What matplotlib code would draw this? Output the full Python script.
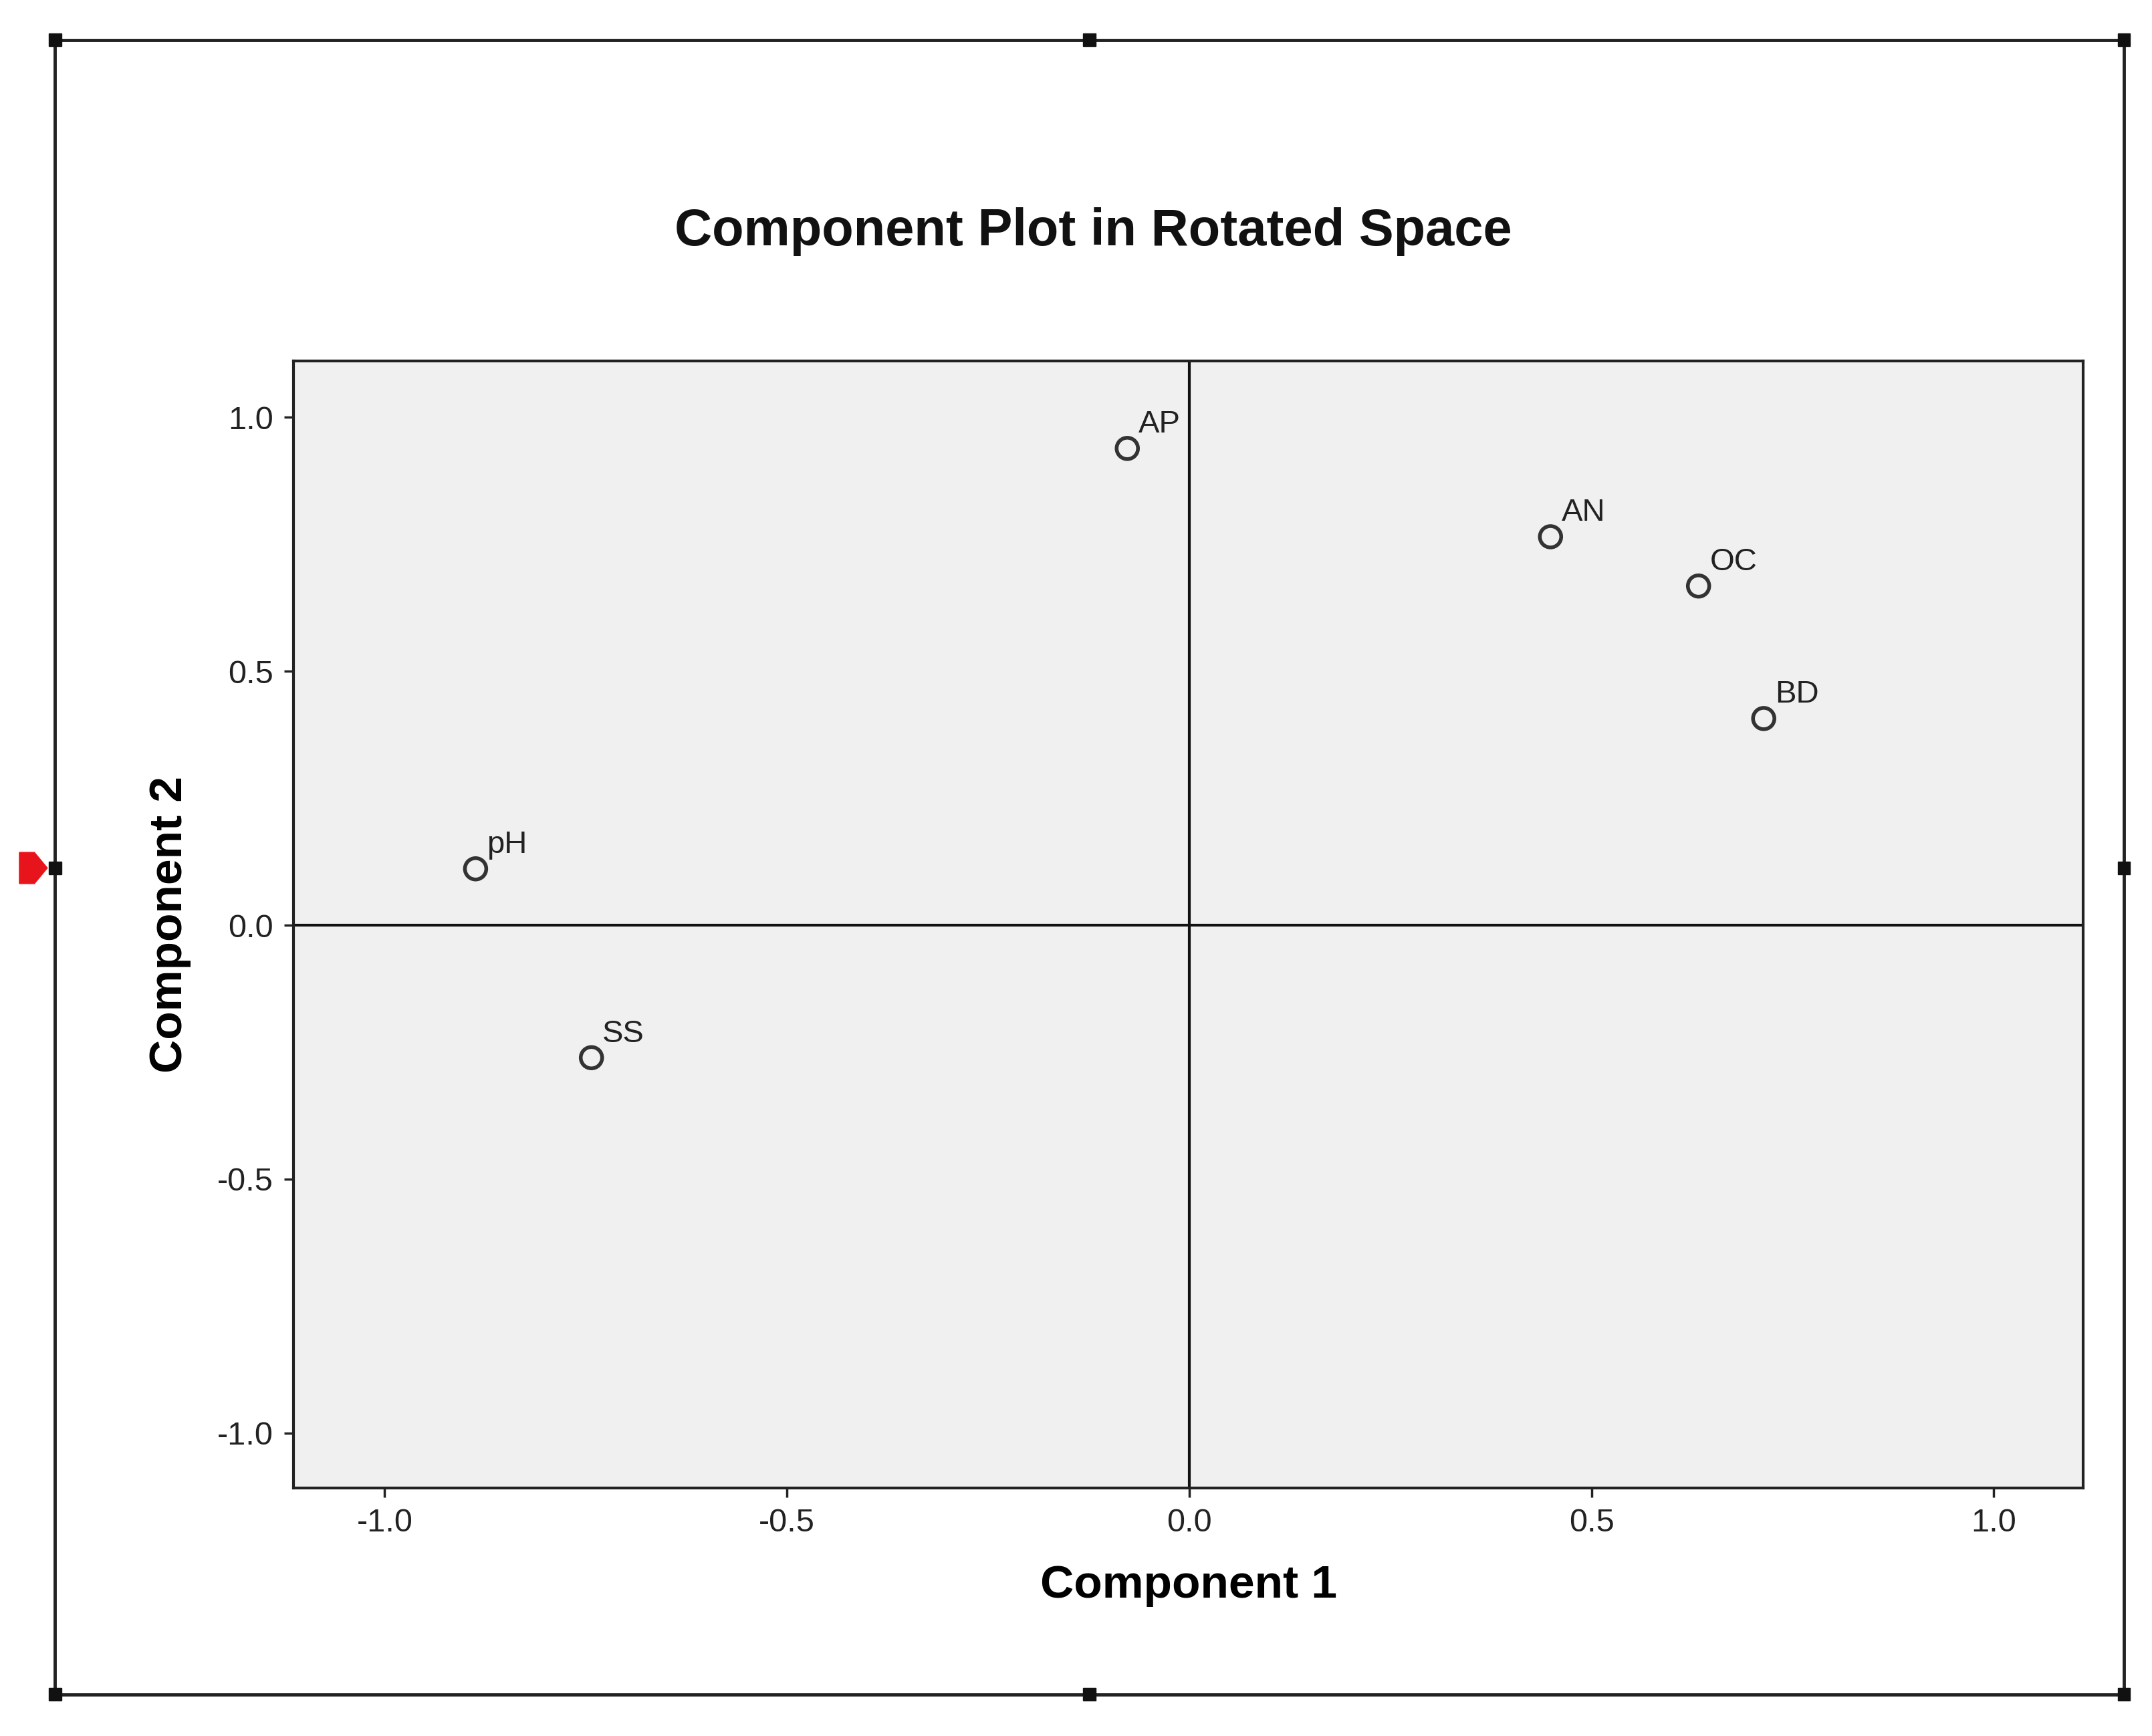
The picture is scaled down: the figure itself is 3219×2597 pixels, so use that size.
import matplotlib
matplotlib.use('Agg')
import matplotlib.pyplot as plt
from matplotlib.patches import Rectangle, Polygon

plt.rcParams['font.family'] = ['Liberation Sans', 'DejaVu Sans']

labels = ['AP', 'AN', 'OC', 'BD', 'pH', 'SS']
comp1 = [-0.077, 0.449, 0.633, 0.714, -0.887, -0.743]
comp2 = [0.939, 0.765, 0.668, 0.407, 0.111, -0.261]
ticks = [-1.0, -0.5, 0.0, 0.5, 1.0]

fig = plt.figure(figsize=(32.19, 25.97), dpi=100)

# outer selection frame with handles
fx0, fx1, fy0, fy1 = 0.0256, 0.987, 0.024, 0.977
fig.add_artist(Rectangle((fx0, fy0), fx1 - fx0, fy1 - fy0, transform=fig.transFigure,
                         fill=False, edgecolor='#222222', linewidth=3.5))
hw, hh = 0.0058, 0.0072
ay = 1 - 630 / 1260
for hx in [fx0, (fx0 + fx1) / 2, fx1]:
    for hy in [fy0, ay, fy1]:
        if hx == (fx0 + fx1) / 2 and hy == ay:
            continue
        fig.add_artist(Rectangle((hx - hw / 2, hy - hh / 2), hw, hh, transform=fig.transFigure,
                                 color='#111111'))
fig.add_artist(Polygon([(0.009, ay + 0.009), (0.016, ay + 0.009), (0.022, ay), (0.016, ay - 0.009),
                        (0.009, ay - 0.009)], closed=True, transform=fig.transFigure, color='#e8141b'))

ax = fig.add_axes([0.1365, 0.143, 0.8315, 0.649])
ax.set_facecolor('#f0f0f0')
ax.set_xlim(-1.113, 1.111)
ax.set_ylim(-1.108, 1.111)
ax.axhline(0, color='#111111', linewidth=3)
ax.axvline(0, color='#111111', linewidth=3)
ax.scatter(comp1, comp2, s=23 ** 2, facecolors='none', edgecolors='#333333', linewidths=4, zorder=3)
for lab, x, y in zip(labels, comp1, comp2):
    ax.annotate(lab, (x, y), xytext=(12, 17), textcoords='offset points', fontsize=34, color='#222222')

ax.set_xticks(ticks)
ax.set_yticks(ticks)
ax.set_xticklabels([f'{t:.1f}' for t in ticks])
ax.set_yticklabels([f'{t:.1f}' for t in ticks])
ax.tick_params(labelsize=35, length=10, width=2.5, colors='#222222', pad=12)
for s in ax.spines.values():
    s.set_linewidth(3)
    s.set_color('#222222')

ax.set_xlabel('Component 1', fontsize=50, fontweight='bold', labelpad=28)
ax.set_ylabel('Component 2', fontsize=50, fontweight='bold', labelpad=28)
fig.text(0.508, 1 - 168 / 1260, 'Component Plot in Rotated Space', ha='center', va='center',
         fontsize=56, fontweight='bold', color='#111111')

fig.savefig('out.png', dpi=100)
